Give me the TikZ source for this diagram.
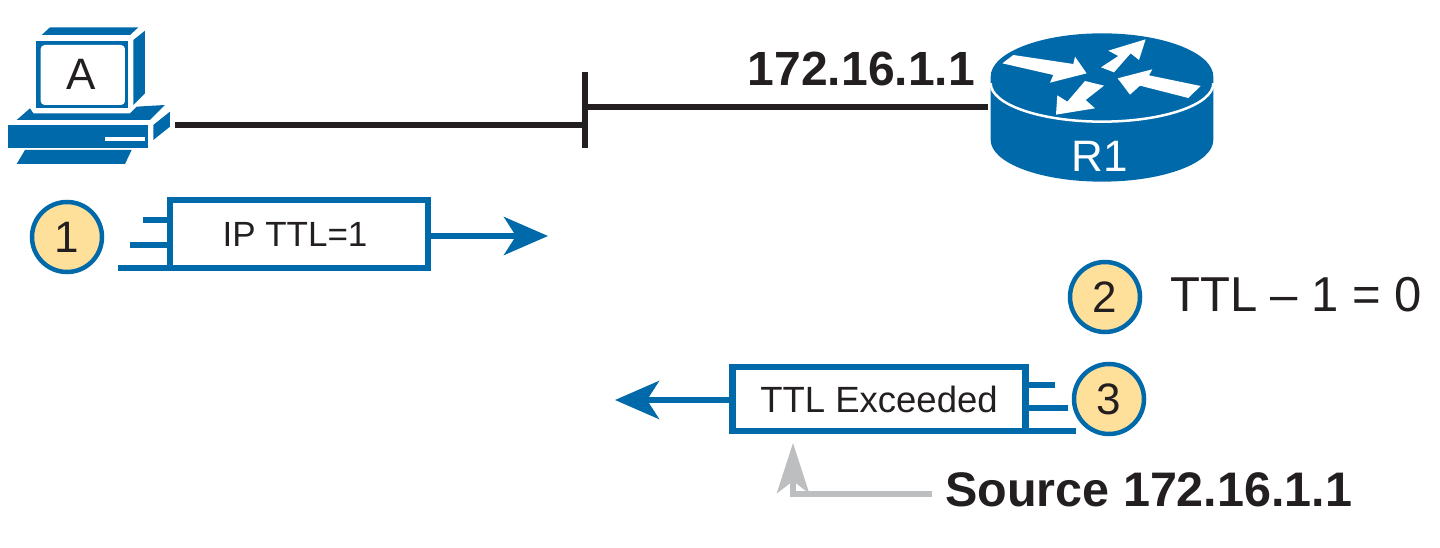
\documentclass[tikz,border=0pt]{standalone}
\usepackage{fontspec}
\setmainfont{Liberation Sans}
\usetikzlibrary{arrows.meta}
\definecolor{ciscoblue}{HTML}{0069AA}
\definecolor{stepfill}{HTML}{FFE09A}
\definecolor{inkc}{HTML}{231F20}
\definecolor{graya}{HTML}{BCBEC0}
\tikzset{
  wire/.style={draw=inkc,line width=6pt},
  pkt/.style={draw=ciscoblue,line width=6.5pt,fill=white,inner sep=0pt,text=inkc},
  trail/.style={draw=ciscoblue,line width=6pt},
  flow/.style={draw=ciscoblue,line width=6pt,-{Stealth[length=44pt,width=38pt,inset=12pt]}},
  stepc/.style={circle,draw=ciscoblue,line width=4.5pt,fill=stepfill,minimum size=70pt,inner sep=0pt,text=inkc,font=\fontsize{44}{44}\selectfont},
  lbl/.style={text=inkc,inner sep=0pt,font=\bfseries\fontsize{48}{48}\selectfont},
  plain/.style={text=inkc,inner sep=0pt,font=\fontsize{49}{49}\selectfont},
  icon/.style={fill=ciscoblue,draw=none}
}
\begin{document}
\begin{tikzpicture}[x=1pt,y=-1pt]
\useasboundingbox (0,0) rectangle (1440,548);
% computer
\begin{scope}[shift={(0,10)},x=.3333pt,y=-.3333pt]
\fill[icon] (125,75)--(150,52)--(415,52)--(390,75)--cycle;
\fill[icon] (108,92) rectangle (385,295);
\fill[white,rounded corners=4pt] (122,105) rectangle (375,285);
\fill[icon] (400,90)--(435,62)--(435,250)--(400,285)--cycle;
\fill[icon] (50,330)--(90,295)--(100,310)--(390,310)--(410,290)--(495,285)--(450,330)--cycle;
\fill[icon] (25,345) rectangle (445,415);
\fill[white] (315,380) rectangle (435,392);
\fill[icon] (460,345)--(510,305)--(510,350)--(460,390)--cycle;
\fill[icon] (75,420)--(395,420)--(375,462)--(50,462)--cycle;
\end{scope}
\node[inner sep=0pt,text=inkc,font=\fontsize{44}{44}\selectfont] (pc) at (81,74) {A};
% router
\begin{scope}[shift={(970,20)},x=.3333pt,y=-.3333pt]
\fill[icon] (62,170)--(62,360) arc[start angle=180,end angle=0,x radius=334,y radius=125]--(730,170)
  arc[start angle=0,end angle=-180,x radius=334,y radius=130]--cycle;
\draw[white,line width=2.5pt] (62,190) arc[start angle=180,end angle=0,x radius=334,y radius=115];
\fill[white] (97,130)--(130,105)--(310,132)--(315,110)--(350,160)--(240,188)--(250,165)--cycle;
\fill[white] (393,142)--(445,108)--(415,92)--(527,58)--(507,120)--(482,100)--(432,157)--cycle;
\fill[white] (402,197)--(347,240)--(375,265)--(258,284)--(262,226)--(292,245)--(345,183)--cycle;
\fill[white] (443,175)--(547,148)--(537,166)--(692,198)--(655,234)--(510,197)--(480,224)--cycle;
\end{scope}
\node[inner sep=0pt,text=white,font=\fontsize{44}{44}\selectfont] (r1) at (1100,156) {R1};
% network
\coordinate (pcport) at (175,125);
\coordinate (jleft) at (585,125);
\coordinate (jright) at (585,107);
\coordinate (rport) at (988,107);
\coordinate (ttop) at (585,72);
\coordinate (tbot) at (585,148);
\draw[wire] (pcport)--(jleft);
\draw[wire] (jright)--(rport);
\draw[wire] (ttop)--(tbot);
\node[lbl,anchor=east] (addr) at (975,69) {172.16.1.1};
% step 1
\node[stepc] (s1) at (67,237) {1};
\node[pkt,minimum width=258pt,minimum height=68pt,font=\fontsize{35}{35}\selectfont] (p1) at (299,234) {\hspace*{-8pt}IP TTL=1};
\coordinate (a1) at (548,236);
\coordinate (l1a) at (143,220); \coordinate (l1b) at (130,245); \coordinate (l1c) at (118,268);
\draw[trail] (l1a)--(l1a-|p1.west);
\draw[trail] (l1b)--(l1b-|p1.west);
\draw[trail] (l1c)--(l1c-|p1.west);
\draw[flow] (p1.east|-a1)--(a1);
% step 2
\node[stepc] (s2) at (1105,297) {2};
\node[plain,anchor=west] (ttl) at (1170,295) {TTL – 1 = 0};
% step 3
\node[stepc] (s3) at (1109,399) {3};
\node[pkt,minimum width=293pt,minimum height=64pt,font=\fontsize{36.5}{36}\selectfont] (p3) at (879,399) {TTL Exceeded};
\coordinate (a3) at (615,400);
\coordinate (l3a) at (1055,385); \coordinate (l3b) at (1068,408); \coordinate (l3c) at (1076,431);
\draw[trail] (l3a)--(l3a-|p3.east);
\draw[trail] (l3b)--(l3b-|p3.east);
\draw[trail] (l3c)--(l3c-|p3.east);
\draw[flow] (p3.west|-a3)--(a3);
% source
\node[lbl,anchor=west,font=\bfseries\fontsize{48.5}{48}\selectfont] (src) at (945,490) {Source 172.16.1.1};
\coordinate (gtip) at (793,443);
\coordinate (gstart) at (932,494);
\draw[draw=graya,line width=6pt,-{Stealth[length=50pt,width=32pt,inset=12pt]}] (gstart)-|(gtip);
\end{tikzpicture}
\end{document}
